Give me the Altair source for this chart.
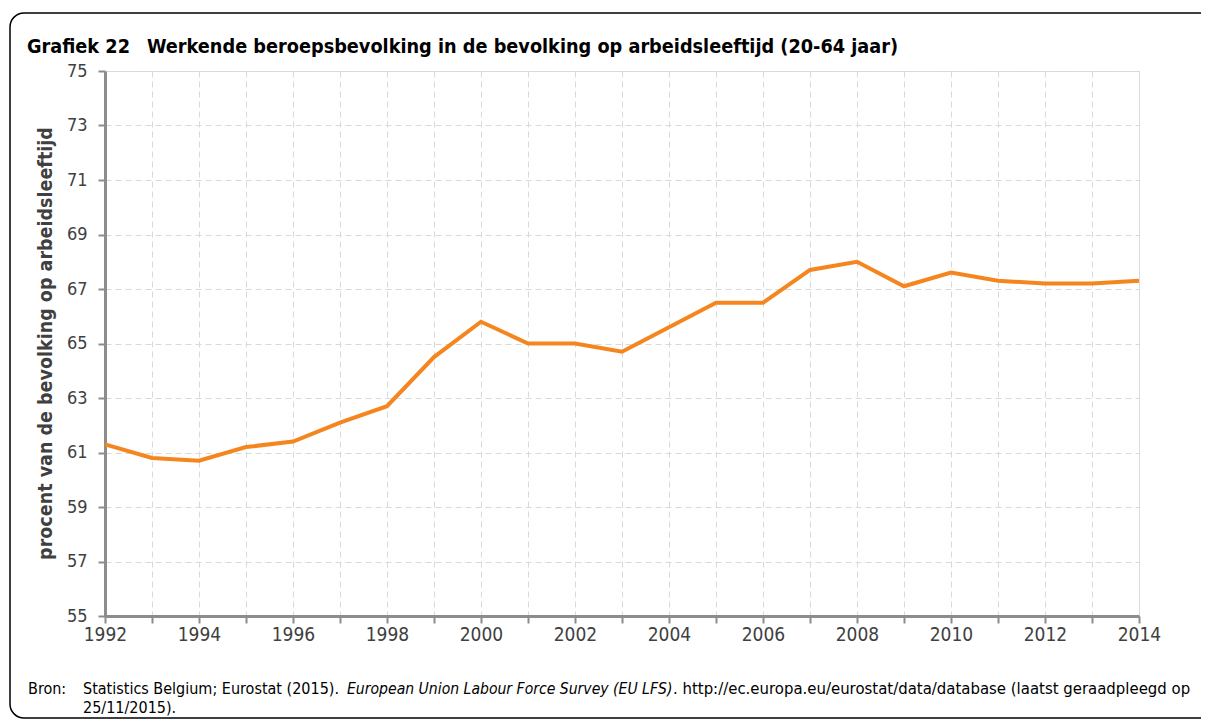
import altair as alt
import pandas as pd

years = list(range(1992, 2015))
werkzaamheid = [61.3, 60.8, 60.7, 61.2, 61.4, 62.1, 62.7, 64.5, 65.8, 65.0, 65.0, 64.7,
                65.6, 66.5, 66.5, 67.7, 68.0, 67.1, 67.6, 67.3, 67.2, 67.2, 67.3]
y_ticks = list(range(55, 76, 2))

title_num = "Grafiek 22"
title_text = "Werkende beroepsbevolking in de bevolking op arbeidsleeftijd (20-64 jaar)"
y_title = "procent van de bevolking op arbeidsleeftijd"
bron_label = "Bron:"
bron_1 = "Statistics Belgium; Eurostat (2015)."
bron_2 = "European Union Labour Force Survey (EU LFS)"
bron_3 = ". http://ec.europa.eu/eurostat/data/database (laatst geraadpleegd op"
bron_4 = "25/11/2015)."

FONT = "DejaVu Sans Condensed, DejaVu Sans"
W, H = 1034, 545
PAD = {"left": 97, "top": 63, "right": 62, "bottom": 103}

df = pd.DataFrame({"jaar": years, "waarde": werkzaamheid})
one = pd.DataFrame({"k": [0]})

line = alt.Chart(df).mark_line(color="#f5861f", strokeWidth=4).encode(
    x=alt.X("jaar:Q",
            scale=alt.Scale(domain=[1992, 2014], nice=False, zero=False),
            axis=alt.Axis(values=years, format="d",
                          labelExpr="datum.value % 2 == 0 ? datum.label : ''",
                          title=None, grid=True, gridDash=[6, 4], gridColor="#d9d9d9",
                          gridWidth=1, domainColor="#8c8c8c", domainWidth=3,
                          tickColor="#8c8c8c", tickWidth=2, tickSize=7,
                          labelFontSize=19, labelColor="#404040", labelPadding=2,
                          labelFont=FONT, labelFlush=False)),
    y=alt.Y("waarde:Q",
            scale=alt.Scale(domain=[55, 75], nice=False, zero=False),
            axis=alt.Axis(values=y_ticks, format="d", title=y_title,
                          grid=True, gridDash=[6, 4], gridColor="#d9d9d9", gridWidth=1,
                          domainColor="#8c8c8c", domainWidth=3,
                          tickColor="#8c8c8c", tickWidth=2, tickSize=7,
                          labelFontSize=18, labelColor="#404040", labelPadding=11,
                          labelFont=FONT,
                          titleFont=FONT, titleFontSize=19.5, titleFontWeight="bold",
                          titleColor="#404040", titleX=-60, titleY=272,
                          titleAngle=-90, titleAlign="center", titleBaseline="middle")),
)

frame = alt.Chart(one).mark_rect(filled=False, stroke="black", strokeWidth=1.5,
                                 cornerRadius=14).encode(
    x=alt.value(-95), x2=alt.value(1130), y=alt.value(-58), y2=alt.value(647))


def txt(s, x, y, size, weight="normal", style="normal"):
    return alt.Chart(one).mark_text(text=s, align="left", baseline="alphabetic",
                                    fontSize=size, fontWeight=weight, fontStyle=style,
                                    font=FONT, color="black").encode(
        x=alt.value(x), y=alt.value(y))


texts = [
    txt(title_num, -78, -18, 19.7, "bold"),
    txt(title_text, 42, -18, 19.7, "bold"),
    txt(bron_label, -77, 623, 16),
    txt(bron_1, -22, 623, 16),
    txt(bron_2, 242, 623, 15.6, style="italic"),
    txt(bron_3, 568, 623, 16.6),
    txt(bron_4, -22, 642, 16),
]

chart = alt.layer(frame, line, *texts).properties(
    width=W, height=H, padding=PAD, autosize=alt.AutoSizeParams(type="none")
).configure_view(stroke="#8c8c8c", strokeWidth=3).configure(font=FONT)

chart.save("out.html", embed_options={"renderer": "svg", "actions": False})
